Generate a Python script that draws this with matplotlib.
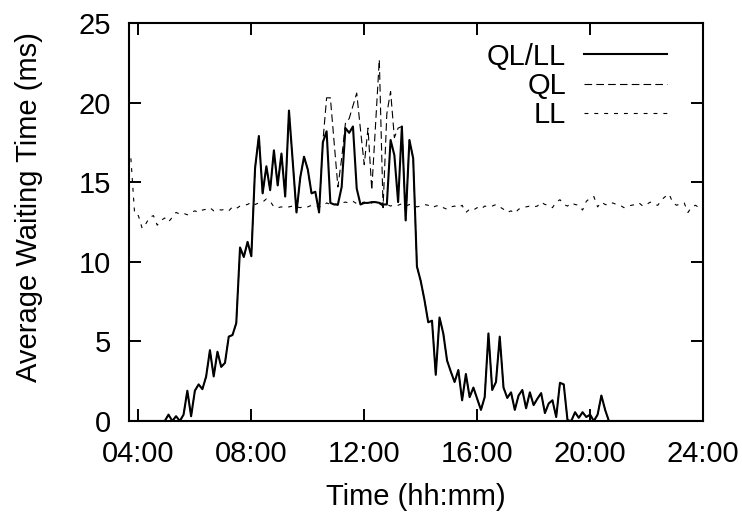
import numpy as np
import matplotlib

matplotlib.use("Agg")
import matplotlib.pyplot as plt

plt.rcParams["font.family"] = ["Liberation Sans", "DejaVu Sans"]
plt.rcParams["lines.scale_dashes"] = False

# samples every 8 minutes, first one at 03:44, last one at 24:00
start_h = 3 + 44 / 60
step_h = 8 / 60

ql_ll = [
    0, 0, 0, 0, 0, 0, 0, 0, 0, 0,
    0.4, 0.0, 0.3, 0.0, 0.4, 1.9, 0.3, 1.9, 2.3, 2.0,
    2.8, 4.45, 2.8, 4.35, 3.4, 3.65, 5.3, 5.4, 6.15, 10.9,
    10.3, 11.25, 10.35, 15.9, 17.9, 14.3, 16.0, 14.5, 17.0, 14.8,
    16.8, 14.1, 19.5, 16.3, 13.1, 15.3, 16.6, 15.8, 14.3, 14.4,
    13.1, 17.5, 18.2, 13.7, 13.6, 13.6, 14.7, 18.4, 18.1, 18.5,
    14.6, 13.6, 13.7, 13.7, 13.75, 13.75, 13.7, 13.6, 13.6, 17.65,
    16.7, 13.75, 18.5, 12.6, 17.65, 16.5, 9.7, 8.8, 7.6, 6.2,
    6.3, 2.9, 6.5, 5.5, 3.8, 3.1, 2.45, 3.2, 1.3, 2.95,
    1.5, 2.1, 1.4, 0.7, 1.5, 5.5, 1.95, 2.45, 5.3, 2.1,
    1.45, 1.8, 0.7, 1.6, 1.95, 0.8, 1.8, 1.0, 1.4, 1.75,
    0.5, 1.1, 1.3, 0.25, 2.4, 2.3, 0.05, 0.0, 0.55, 0.2,
    0.55, 0.25, 0.4, 0.0, 0.4, 1.6, 0.7, 0, 0, 0,
    0, 0, 0, 0, 0, 0, 0, 0, 0, 0,
    0, 0, 0, 0, 0, 0, 0, 0, 0, 0,
    0, 0, 0,
]

# QL differs from QL/LL only between samples 51 and 71 (about 10:30 - 13:10)
ql_from = 51
ql_part = [
    17.5, 20.3, 20.3, 17.5, 14.7, 16.5, 18.7, 19.0, 19.8, 20.6,
    18.3, 16.1, 18.4, 14.5, 18.6, 22.7, 13.4, 19.3, 20.7, 17.8,
    18.4,
]

ll = [
    16.5, 13.0, 12.9, 12.1, 12.4, 12.8, 12.9, 12.3, 12.6, 12.75,
    12.5, 12.8, 13.1, 13.0, 13.05, 12.95, 13.1, 13.2, 13.1, 13.25,
    13.3, 13.4, 13.2, 13.3, 13.25, 13.3, 13.2, 13.45, 13.35, 13.5,
    13.55, 13.6, 13.75, 13.6, 13.7, 13.75, 13.95, 13.8, 13.45, 13.4,
    13.45, 13.4, 13.45, 13.5, 13.45, 13.4, 13.5, 13.45, 13.55, 13.5,
    13.45, 13.5, 13.7, 13.6, 13.65, 13.55, 13.7, 13.75, 13.7, 13.8,
    13.65, 13.7, 13.75, 13.6, 13.7, 13.8, 13.65, 13.5, 13.6, 13.5,
    13.6, 13.55, 13.65, 13.5, 13.6, 13.55, 13.45, 13.5, 13.6, 13.55,
    13.4, 13.5, 13.55, 13.4, 13.3, 13.45, 13.5, 13.4, 13.55, 13.1,
    13.3, 13.25, 13.4, 13.3, 13.5, 13.45, 13.5, 13.6, 13.45, 13.3,
    13.1, 13.2, 13.05, 13.3, 13.4, 13.45, 13.5, 13.45, 13.5, 13.75,
    13.6, 13.55, 13.4, 13.75, 13.9, 13.6, 13.5, 13.7, 13.6, 13.55,
    13.25, 13.8, 14.0, 14.1, 13.45, 13.75, 13.6, 13.55, 13.7, 13.6,
    13.55, 13.4, 13.5, 13.55, 13.6, 13.7, 13.5, 13.6, 13.75, 13.6,
    13.55, 13.9, 14.1, 14.25, 13.7, 13.55, 13.65, 13.7, 13.1, 13.45,
    13.55, 13.4, 13.5,
]

tick_hours = [4, 8, 12, 16, 20, 24]
tick_labels = ["04:00", "08:00", "12:00", "16:00", "20:00", "24:00"]

t = start_h + step_h * np.arange(len(ll))
ql = list(ql_ll)
ql[ql_from:ql_from + len(ql_part)] = ql_part

fig = plt.figure(figsize=(7.42, 5.12), dpi=100)
ax = fig.add_axes([129 / 742, 91 / 512, 574 / 742, 398 / 512])

ax.plot(t, ql_ll, color="black", lw=1.5, label="QL/LL")
ax.plot(t, ql, color="black", lw=0.8, dashes=(5.5, 3.0), label="QL")
ax.plot(t, ll, color="black", lw=0.8, dashes=(2.8, 4.3), label="LL")

ax.set_xlim(3 + 40 / 60, 24)
ax.set_ylim(0, 25)
ax.set_xticks(tick_hours)
ax.set_xticklabels(tick_labels)
ax.set_yticks([0, 5, 10, 15, 20, 25])

fs = 21
ax.tick_params(direction="in", length=8.5, width=1.4, top=True, right=True,
               labelsize=fs)
ax.tick_params(axis="y", pad=13)
ax.tick_params(axis="x", pad=13.5)
for s in ax.spines.values():
    s.set_linewidth(1.5)

ax.set_xlabel("Time (hh:mm)", fontsize=fs, labelpad=11)
ax.set_ylabel("Average Waiting Time (ms)", fontsize=fs)
ax.yaxis.set_label_coords(-0.150, 0.538)

ax.legend(loc="upper right", bbox_to_anchor=(0.937, 0.951), frameon=False,
          markerfirst=False, fontsize=fs, handlelength=2.85, handletextpad=0.6,
          labelspacing=0.05, borderpad=0, borderaxespad=0)

fig.savefig("out.png", dpi=100)
